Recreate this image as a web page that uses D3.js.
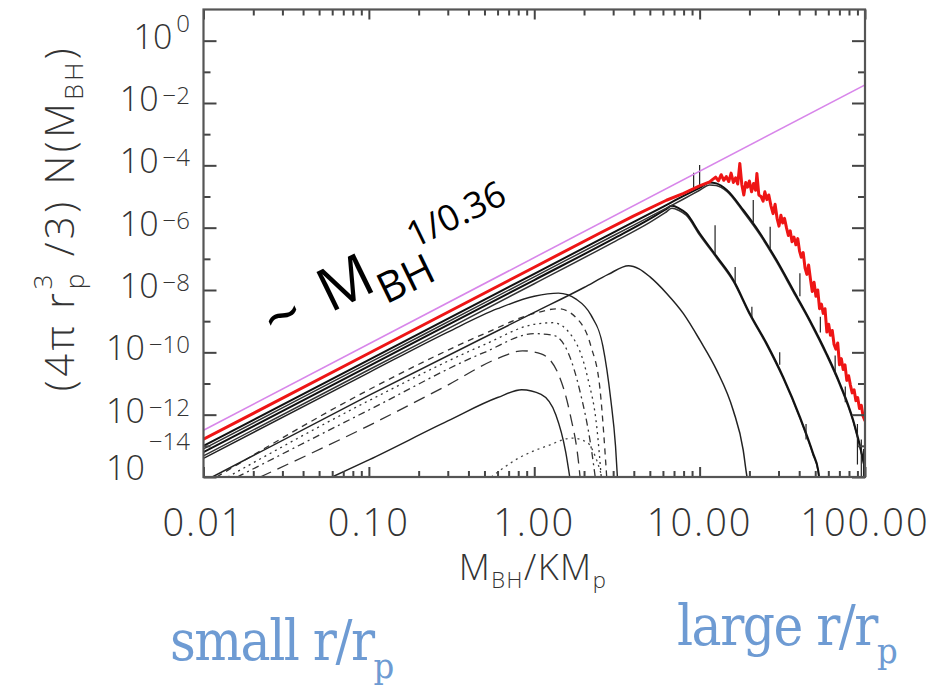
<!DOCTYPE html>
<meta charset="utf-8">
<script src="https://d3js.org/d3.v7.min.js"></script>
<style>
  body { margin: 0; background: #fff; }
  svg text { font-family: "Open Sans", "DejaVu Sans", sans-serif; }
</style>
<div id="chart"></div>
<script>

// x: M_BH / K M_p ; y values are log10 of (4 pi r_p^3 / 3) N(M_BH)
var xTickValues = [0.01, 0.1, 1, 10, 100];
var xTickLabels = ["0.01", "0.10", "1.00", "10.00", "100.00"];
var yLabelExps = [0, -2, -4, -6, -8, -10, -12, -14];

// power law ~ M^(1/0.36)
var powerLaw = [[0.01, -12.5], [100, -1.42]];

// red curve (largest r/r_p)
var redCurve = [[0.01, -12.79], [0.1, -10.03], [1, -7.27], [2.5, -6.17], [4, -5.62], [6.3, -5.12],
  [8, -4.9], [10, -4.66], [11.5, -4.53], [12, -4.45], [12.5, -4.38], [13, -4.5], [13.5, -4.3],
  [14, -4.48], [14.5, -4.36], [15, -4.52], [15.5, -4.25], [16, -4.55], [16.5, -4.4], [17, -4.6],
  [17.5, -3.94], [18, -4.62], [18.5, -4.95], [19, -4.55], [19.5, -4.7], [20, -4.5], [20.6, -4.85],
  [21.2, -4.58], [21.8, -4.8], [22.2, -4.26], [22.8, -4.95], [23.5, -5.0], [24.2, -5.15],
  [24.8, -4.85], [25.5, -5.1], [26.2, -4.95], [27, -5.3], [27.8, -5.55], [28.6, -5.25], [29.4, -5.7],
  [30.2, -5.95], [31, -5.6], [31.8, -5.85], [32.6, -5.7], [33.5, -6.0], [34.4, -6.25], [35.3, -6.1],
  [36.2, -6.45], [37.2, -6.3], [38.2, -6.55], [39.2, -6.35], [40.2, -6.75], [41.2, -6.95],
  [42.3, -6.8], [43.4, -7.3], [44.5, -7.5], [45.6, -7.2], [46.8, -7.65], [48, -8.05], [49.2, -7.75],
  [50.5, -8.2], [51.8, -8.0], [53.1, -8.6], [54.5, -8.45], [55.9, -8.75], [57.3, -8.6], [58.8, -9.35],
  [60.3, -9.1], [61.8, -9.45], [63.4, -9.3], [65, -9.75], [66.7, -9.9], [68.4, -9.7], [70.1, -10.4],
  [71.9, -10.2], [73.8, -10.55], [75.7, -10.4], [77.6, -10.9], [79.6, -10.75], [81.6, -11.05],
  [83.7, -11.3], [85.9, -11.2], [88.1, -11.55], [90.3, -11.45], [92.6, -11.8], [95, -11.7],
  [97.4, -12.05], [100, -12.2]];

// thick black curves (the band)
var bandPeak12 = [[0.01, -13.0], [0.1, -10.24], [1, -7.48], [3, -6.16], [6, -5.33], [8, -4.98],
  [10, -4.72], [11.5, -4.55], [12.6, -4.58], [14.6, -4.79], [18.4, -5.44], [23.2, -6.18],
  [29.2, -7.04], [36.8, -8.0], [46.4, -8.97], [58.6, -10.04], [70.5, -11.0], [84.9, -12.18],
  [97.5, -13.46], [102, -14.0]];
var bandPeak12b = [[0.01, -13.1], [0.1, -10.34], [1, -7.58], [3, -6.26], [6, -5.43], [8, -5.08],
  [10, -4.8], [11.5, -4.63], [12.6, -4.65], [14.6, -4.84], [18.4, -5.5], [23.2, -6.24],
  [29.2, -7.1], [36.8, -8.06], [46.4, -9.02], [58.6, -10.1], [70.5, -11.06], [84.9, -12.24],
  [97.5, -13.5], [102, -14.0]];
var bandPeak7 = [[0.01, -13.2], [0.1, -10.44], [1, -7.68], [3, -6.36], [5, -5.72], [6.2, -5.42],
  [6.8, -5.3], [7.5, -5.38], [8.3, -5.54], [10, -6.18], [12.7, -6.93], [16, -7.68], [20.1, -8.75],
  [25.4, -9.71], [32, -10.79], [40.4, -12.07], [48.6, -13.25], [52.1, -13.78], [53, -14.1]];
var bandPeak7b = [[0.01, -13.32], [0.1, -10.56], [1, -7.8], [3, -6.47], [5, -5.83], [6.2, -5.52],
  [6.8, -5.38], [7.5, -5.45], [8.3, -5.6], [10, -6.24], [12.7, -6.98], [16, -7.73], [20.1, -8.8],
  [25.4, -9.76], [32, -10.84], [40.4, -12.12], [48.6, -13.3], [52.1, -13.82], [53, -14.1]];

// spikes on the noisy black curves: [x, base, top]
var blackSpikes = [[10, -4.7, -3.99], [9.2, -4.8, -4.24], [12.4, -6.85, -5.92], [16.4, -7.78, -7.26],
  [20.7, -8.9, -8.54], [21.1, -5.88, -5.11], [26.7, -6.66, -5.97], [40.4, -8.2, -7.46],
  [53.7, -9.36, -8.86], [66, -10.7, -10.1], [30.5, -10.4, -10.0], [44, -12.8, -12.3],
  [76, -11.6, -11.1], [90, -13.6, -12.3], [95, -14, -12.8], [98, -14, -13.1]];

// thin solid, peak near 3.7
var curveE = [[0.0113, -14], [0.1, -11.38], [1, -8.72], [2, -7.92], [2.8, -7.5], [3.72, -7.22],
  [4.3, -7.32], [5.01, -7.58], [6.32, -8.11], [7.96, -8.75], [10.04, -9.61], [12.67, -10.57],
  [15.96, -11.86], [18.35, -13.14], [19.2, -13.89], [19.5, -14.1]];

// small r/r_p group, peaks near 1
var groupSolidTop = [[0.01, -13.4], [0.1, -10.65], [0.3, -9.35], [0.6, -8.6], [1, -8.2], [1.4, -8.1],
  [1.8, -8.3], [2.2, -8.8], [2.6, -9.8], [2.9, -11.5], [3.1, -13], [3.2, -14.2]];
var groupDashed = [[0.012, -14], [0.1, -11.2], [0.5, -9.4], [1, -8.75], [1.4, -8.6], [1.8, -8.9],
  [2.2, -9.8], [2.5, -11.2], [2.75, -14.1]];
var groupDotted = [[0.014, -14], [0.1, -11.55], [0.5, -9.75], [1, -9.1], [1.3, -9.05], [1.7, -9.5],
  [2.1, -10.8], [2.4, -12.5], [2.55, -14.1]];
var groupDashDot = [[0.016, -14], [0.1, -11.85], [0.5, -10.0], [1, -9.4], [1.3, -9.45], [1.6, -10],
  [1.9, -11.3], [2.2, -13], [2.35, -14.1]];
var groupLongDash = [[0.022, -14], [0.1, -12.35], [0.3, -11.05], [0.6, -10.2], [0.85, -9.95],
  [1.1, -10.05], [1.4, -10.7], [1.65, -12], [1.85, -13.5], [1.9, -14.1]];
var groupSolidLow = [[0.06, -14], [0.1, -13.45], [0.3, -12.2], [0.6, -11.45], [0.84, -11.2],
  [1.1, -11.35], [1.35, -12], [1.55, -13.2], [1.65, -14.1]];
var groupDottedLow = [[0.55, -14], [0.8, -13.4], [1.2, -13.0], [1.7, -12.75], [2.1, -12.9],
  [2.4, -13.5], [2.6, -14.1]];

var svg = d3.select("#chart").append("svg")
  .attr("width", 940).attr("height", 688);

var plotLeft = 203.5, plotRight = 865, plotTop = 9.5, plotBottom = 477;

var x = d3.scaleLog().domain([0.01, 100]).range([plotLeft, plotRight]);
var y = d3.scaleLinear().domain([-14, 1]).range([plotBottom, plotTop]);

svg.append("clipPath").attr("id", "plot")
  .append("rect").attr("x", plotLeft).attr("y", plotTop)
  .attr("width", plotRight - plotLeft).attr("height", plotBottom - plotTop);

var plot = svg.append("g").attr("clip-path", "url(#plot)");

var line = d3.line()
  .x(function(d) { return x(d[0]); })
  .y(function(d) { return y(d[1]); })
  .curve(d3.curveMonotoneX);
var jagged = d3.line()
  .x(function(d) { return x(d[0]); })
  .y(function(d) { return y(d[1]); });

function draw(data, color, width, dash, gen) {
  plot.append("path")
    .datum(data)
    .attr("d", gen || line)
    .attr("fill", "none")
    .attr("stroke", color)
    .attr("stroke-width", width)
    .attr("stroke-dasharray", dash || null)
    .attr("stroke-linejoin", "round");
}

// lower group
draw(groupDottedLow, "#444", 1.3, "2,4");
draw(groupSolidLow, "#222", 1.4);
draw(groupLongDash, "#333", 1.3, "12,7");
draw(groupDashDot, "#333", 1.3, "7,4,2,4");
draw(groupDotted, "#333", 1.3, "2,4");
draw(groupDashed, "#333", 1.3, "6,5");
draw(groupSolidTop, "#222", 1.4);
draw(curveE, "#222", 1.5);

// band
draw(bandPeak7b, "#333", 1.5);
draw(bandPeak7, "#111", 2.0);
draw(bandPeak12b, "#333", 1.5);
draw(bandPeak12, "#111", 2.0);

plot.selectAll(".spike")
  .data(blackSpikes)
  .enter().append("line")
    .attr("x1", function(d) { return x(d[0]); })
    .attr("x2", function(d) { return x(d[0]); })
    .attr("y1", function(d) { return y(d[1]); })
    .attr("y2", function(d) { return y(d[2]); })
    .attr("stroke", "#222")
    .attr("stroke-width", 1.2);

draw(redCurve, "#ee1515", 3, null, jagged);
draw(powerLaw, "#d886ea", 1.6, null, jagged);

// axes: inward ticks on all four sides
var xMinor = x.ticks().filter(function(v) { return Math.abs(Math.log10(v) - Math.round(Math.log10(v))) > 1e-6; });
var yMinorExp = d3.range(-13, 1, 2);

function styleAxis(g) {
  g.select(".domain").remove();
  g.selectAll("line").attr("stroke", "#444").attr("stroke-width", 2);
  g.selectAll("text").remove();
}

svg.append("g").attr("transform", "translate(0," + plotBottom + ")")
  .call(d3.axisBottom(x).tickValues(xTickValues).tickSize(-10)).call(styleAxis);
svg.append("g").attr("transform", "translate(0," + plotBottom + ")")
  .call(d3.axisBottom(x).tickValues(xMinor).tickSize(-6)).call(styleAxis);
svg.append("g").attr("transform", "translate(0," + plotTop + ")")
  .call(d3.axisTop(x).tickValues(xTickValues).tickSize(-10)).call(styleAxis);
svg.append("g").attr("transform", "translate(0," + plotTop + ")")
  .call(d3.axisTop(x).tickValues(xMinor).tickSize(-6)).call(styleAxis);

svg.append("g").attr("transform", "translate(" + plotLeft + ",0)")
  .call(d3.axisLeft(y).tickValues(yLabelExps).tickSize(-13)).call(styleAxis);
svg.append("g").attr("transform", "translate(" + plotLeft + ",0)")
  .call(d3.axisLeft(y).tickValues(yMinorExp).tickSize(-7)).call(styleAxis);
svg.append("g").attr("transform", "translate(" + plotRight + ",0)")
  .call(d3.axisRight(y).tickValues(yLabelExps).tickSize(-13)).call(styleAxis);
svg.append("g").attr("transform", "translate(" + plotRight + ",0)")
  .call(d3.axisRight(y).tickValues(yMinorExp).tickSize(-7)).call(styleAxis);

svg.append("rect")
  .attr("x", plotLeft).attr("y", plotTop)
  .attr("width", plotRight - plotLeft).attr("height", plotBottom - plotTop)
  .attr("fill", "none").attr("stroke", "#555").attr("stroke-width", 2.2);

// x tick labels
svg.selectAll(".xlab")
  .data(xTickValues)
  .enter().append("text")
    .attr("x", function(d) { return x(d); })
    .attr("y", 536)
    .attr("text-anchor", "middle")
    .attr("font-size", 38)
    .attr("font-weight", 300)
    .attr("letter-spacing", 2)
    .attr("fill", "#333")
    .text(function(d, i) { return xTickLabels[i]; });

// y tick labels 10^n
var ylab = svg.selectAll(".ylab")
  .data(yLabelExps)
  .enter().append("text")
    .attr("x", 190)
    .attr("y", function(d) { return y(d) + (d === -14 ? 3 : 8); })
    .attr("text-anchor", "end")
    .attr("font-size", 34)
    .attr("font-weight", 300)
    .attr("fill", "#333");
ylab.append("tspan").text("10");
ylab.append("tspan")
  .attr("font-size", 24)
  .attr("dx", 4)
  .attr("dy", function(d) { return d === 0 ? -17 : (d === -14 ? -30 : -7); })
  .text(function(d) { return d === 0 ? "0" : "\u2212" + Math.abs(d); });

// x axis title
var xt = svg.append("text")
  .attr("x", 533).attr("y", 580)
  .attr("text-anchor", "middle")
  .attr("font-size", 36).attr("font-weight", 300).attr("letter-spacing", 1.5).attr("fill", "#333");
xt.append("tspan").text("M");
xt.append("tspan").attr("font-size", 22).attr("dy", 8).text("BH");
xt.append("tspan").attr("dy", -8).text("/KM");
xt.append("tspan").attr("font-size", 22).attr("dy", 8).text("p");

// y axis title
var yt = svg.append("text")
  .attr("transform", "translate(74,218) rotate(-90)")
  .attr("text-anchor", "middle")
  .attr("font-size", 40).attr("font-weight", 300).attr("letter-spacing", 3.5).attr("fill", "#333");
yt.append("tspan").text("(4\u03c0  r");
yt.append("tspan").attr("font-size", 26).attr("dy", -22).text("3");
yt.append("tspan").attr("font-size", 26).attr("dx", -18).attr("dy", 32).text("p");
yt.append("tspan").attr("dy", -10).text(" /3)  N(M");
yt.append("tspan").attr("font-size", 25).attr("dy", 9).text("BH");
yt.append("tspan").attr("dy", -9).text(")");

// power law annotation
var ann = svg.append("text")
  .attr("transform", "translate(330,313) rotate(-26)")
  .attr("fill", "#000");
ann.append("tspan").attr("x", -62).attr("y", 4).attr("font-size", 64).text("~");
ann.append("tspan").attr("x", 0).attr("y", 0).attr("font-size", 60).text("M");
ann.append("tspan").attr("x", 54).attr("y", 17).attr("font-size", 42).text("BH");
ann.append("tspan").attr("x", 104).attr("y", -21).attr("font-size", 36).text("1/0.36");

// blue captions
function caption(xPos, yPos, label) {
  var t = svg.append("text")
    .attr("x", xPos).attr("y", yPos)
    .attr("fill", "#6e9bd3")
    .attr("font-size", 56)
    .attr("letter-spacing", -1.5)
    .style("font-family", "'DejaVu Serif Condensed', 'Liberation Serif', serif")
    .style("font-stretch", "condensed");
  t.append("tspan").text(label);
  t.append("tspan").attr("font-size", 36).attr("dy", 18).text("p");
}
caption(170, 660, "small r/r");
caption(677, 645, "large r/r");

</script>
